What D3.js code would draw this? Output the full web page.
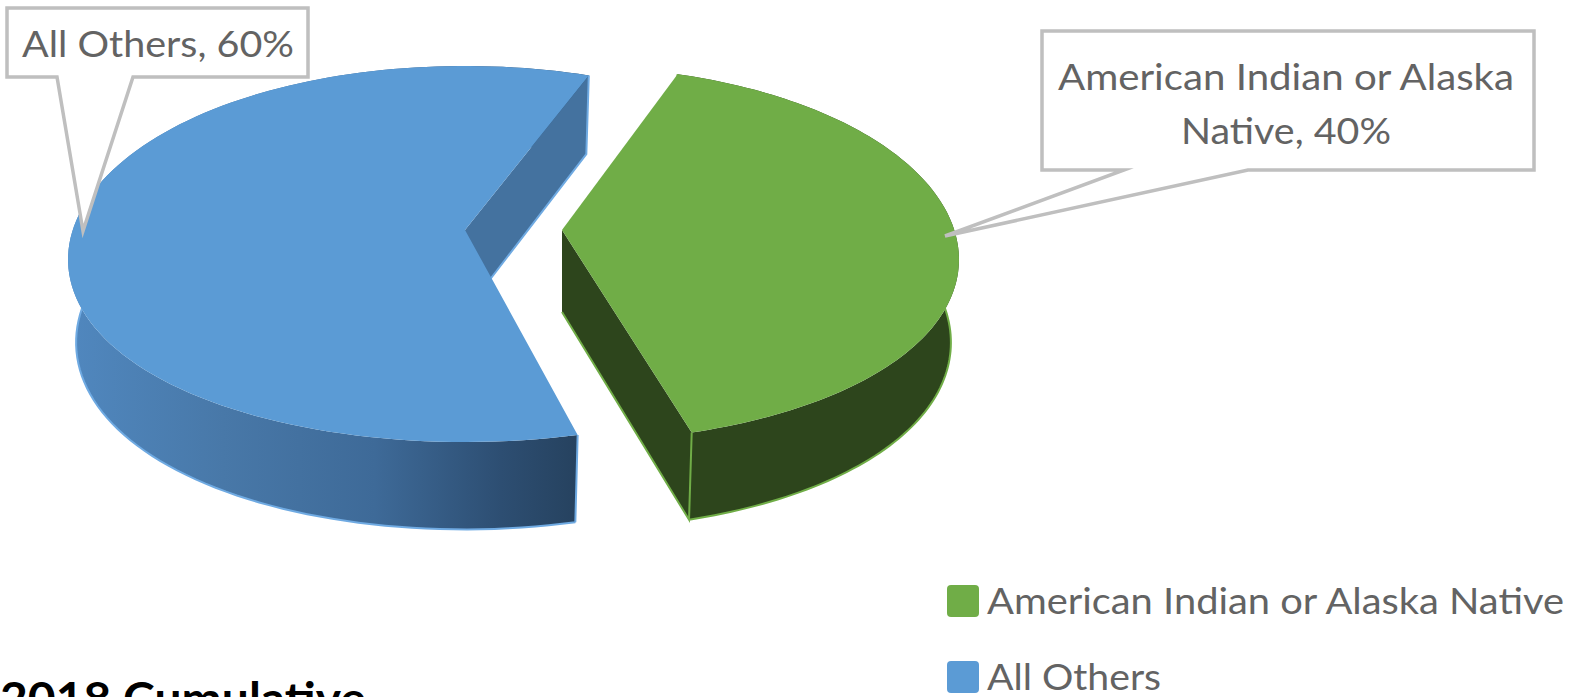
<!DOCTYPE html>
<html>
<head>
<meta charset="utf-8">
<script src="https://cdn.jsdelivr.net/npm/d3@7/dist/d3.min.js"></script>
<style>
  html, body { margin: 0; padding: 0; background: #fff; overflow: hidden; }
  svg { display: block; }
  text { font-family: Lato, "Open Sans", sans-serif; }
</style>
</head>
<body>
<script>
// Share of cases by group
const categories = ["American Indian or Alaska Native", "All Others"];
const values = [40, 60];
const topColors = ["#70AD47", "#5B9BD5"];
const sideColors = ["#2D451C", "#44729F"];
const rimColors = ["#70AD47", "#6FAAE2"];
const title = "2018 Cumulative";

const width = 1572, height = 697;
const svg = d3.select("body").append("svg").attr("width", width).attr("height", height);

// Tilted-disc projection: a unit disc point maps to the screen with mild perspective.
// "sag" fattens the lower flanks of the rim, "drop" lowers the rim relative to the apex.
const topFace = { apexY: 230, a: 185.2, b: 0.1223, R: 394, sag: 5, drop: 1, shiftX: [0, 0] };
const baseFace = { apexY: 312, a: 189.6, b: 0.122, R: 386, sag: 5, drop: 1.5, shiftX: [0, 0] };
const pieCenterX = 513.5, explode = 48.5;

// Perspective foreshortening of the exploded slices, in degrees at each slice end.
const apparentTwist = [[0, 0], [2.3, 1.4]];

function project(face, s, u, v) {
  const w = 1 + face.b * v;
  return [
    s.cx + face.shiftX[s.i] + face.R * u / w,
    face.apexY - face.a * v / w + face.sag * (1 - v) * u * u + face.drop
  ];
}

const toRad = Math.PI / 180;
const pie = d3.pie().sort(null).startAngle(19.1 * toRad).endAngle(379.1 * toRad);
const slices = pie(values).map((d, i) => {
  const mid = (d.startAngle + d.endAngle) / 2;
  return {
    ...d, i,
    cx: pieCenterX + explode * Math.sin(mid),
    angle: d3.scaleLinear()
      .domain([0, 120])
      .range([d.startAngle + apparentTwist[i][0] * toRad, d.endAngle + apparentTwist[i][1] * toRad])
  };
});

const steps = d3.range(0, 121);
const rim = (face, s) => steps.map(k => {
  const t = s.angle(k);
  return project(face, s, Math.sin(t), Math.cos(t));
});
const line = d3.line();
const closed = pts => line(pts) + "Z";

// Horizontal shading along the blue outer wall
const defs = svg.append("defs");
const wallShade = defs.append("linearGradient").attr("id", "wallShade")
  .attr("gradientUnits", "userSpaceOnUse").attr("x1", 72).attr("x2", 577).attr("y1", 0).attr("y2", 0);
[[0, "#5087BE"], [0.3, "#4878A8"], [0.6, "#3E6A98"], [0.85, "#2D4E72"], [1, "#26425F"]]
  .forEach(([o, c]) => wallShade.append("stop").attr("offset", o).attr("stop-color", c));

const pieLayer = svg.append("g");

slices.forEach(s => {
  const topRim = rim(topFace, s), baseRim = rim(baseFace, s);
  const g = pieLayer.append("g");
  const apexTop = [s.cx, topFace.apexY];
  const apexBase = [s.cx, baseFace.apexY];
  const last = topRim.length - 1;

  // Outer wall, swept strip by strip so the silhouette joins both rims
  const strips = d3.range(last)
    .map(k => closed([topRim[k], topRim[k + 1], baseRim[k + 1], baseRim[k]]))
    .join("");
  g.append("path").attr("d", strips)
    .attr("fill", s.i === 1 ? "url(#wallShade)" : sideColors[s.i]);

  // Radial cut face that looks toward the viewer
  g.append("path")
    .attr("d", closed([apexTop, topRim[last], baseRim[last], apexBase]))
    .attr("fill", sideColors[s.i]);

  // Light edge along the front of the base rim and the vertical seams
  const frontBase = baseRim.filter((p, k) => Math.cos(s.angle(k)) < 0.1);
  g.append("path")
    .attr("d", line(frontBase)
      + line([topRim[0], baseRim[0]])
      + line([topRim[last], baseRim[last], apexBase]))
    .attr("fill", "none")
    .attr("stroke", rimColors[s.i]).attr("stroke-width", 2);

  // Top face
  g.append("path")
    .attr("d", closed([apexTop, ...topRim]))
    .attr("fill", topColors[s.i]);
});

// Callout labels with leader pointers
const callouts = [
  { box: [7, 8, 308, 77], tip: [83, 231], gate: [57, 133],
    lines: ["All Others, 60%"], xMid: 158, baselines: [57], lens: [272] },
  { box: [1042, 31, 1534, 170], tip: [945, 236], gate: [1124, 1248],
    lines: ["American Indian or Alaska", "Native, 40%"], xMid: 1286, baselines: [90, 144], lens: [456, 210] }
];

const calloutLayer = svg.append("g");
callouts.forEach(c => {
  const [x0, y0, x1, y1] = c.box;
  const outline = [[x0, y0], [x1, y0], [x1, y1], [c.gate[1], y1], c.tip, [c.gate[0], y1], [x0, y1]];
  calloutLayer.append("path")
    .attr("d", closed(outline))
    .attr("fill", "#fff").attr("stroke", "#BFBFBF").attr("stroke-width", 3.5)
    .attr("stroke-linejoin", "miter").attr("stroke-miterlimit", 12);
  c.lines.forEach((t, i) => {
    calloutLayer.append("text")
      .attr("x", c.xMid).attr("y", c.baselines[i])
      .attr("text-anchor", "middle")
      .attr("font-size", 37).attr("fill", "#636363")
      .attr("textLength", c.lens[i]).attr("lengthAdjust", "spacingAndGlyphs")
      .text(t);
  });
});

// Legend
const legendY = d3.scalePoint().domain(categories).range([601, 677]);
const legend = svg.append("g").selectAll("g").data(categories).join("g")
  .attr("transform", d => `translate(0,${legendY(d)})`);
legend.append("rect")
  .attr("x", 947).attr("y", -16).attr("width", 32).attr("height", 32).attr("rx", 4)
  .attr("fill", (d, i) => topColors[i]);
legend.append("text")
  .attr("x", 987).attr("y", 13)
  .attr("font-size", 37).attr("fill", "#636363")
  .attr("textLength", (d, i) => [577, 174][i]).attr("lengthAdjust", "spacingAndGlyphs")
  .text(d => d);

// Chart title, cut by the lower edge of the page
svg.append("text")
  .attr("x", 0).attr("y", 715)
  .attr("font-size", 46).attr("font-weight", 700).attr("fill", "#000")
  .attr("textLength", 366).attr("lengthAdjust", "spacingAndGlyphs")
  .text(title);
</script>
</body>
</html>
